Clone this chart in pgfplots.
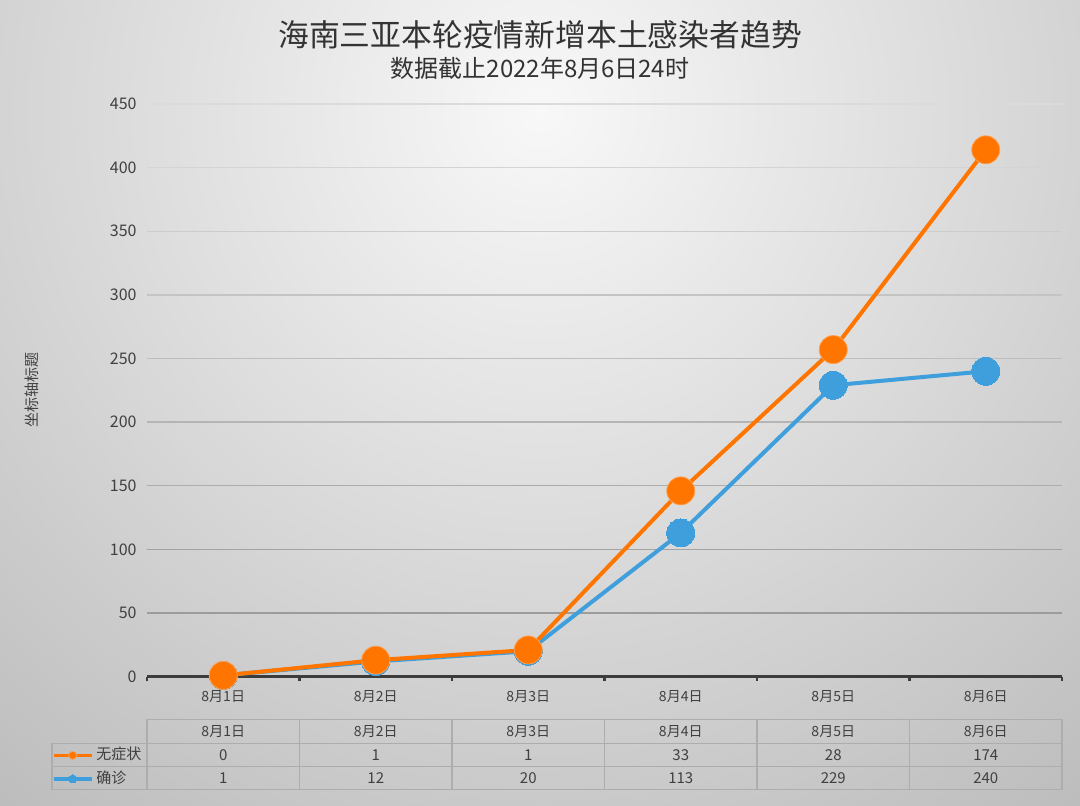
\documentclass[border=0pt]{standalone}
\usepackage{pgfplots}
\pgfplotsset{compat=1.18}
\usepackage{pgfplotstable}
\usepackage{fontspec}
\setmainfont{Noto Sans CJK SC}

\definecolor{bgin}{HTML}{F8F8F8}
\definecolor{bgout}{HTML}{BABABA}
\definecolor{orangeS}{HTML}{FF7500}
\definecolor{blueS}{HTML}{3E9FDC}
\definecolor{txt}{HTML}{404040}
\definecolor{titlec}{HTML}{333333}
\definecolor{axisc}{HTML}{3C3C3C}
\definecolor{rule}{HTML}{ADADAD}

% daily new local cases, Sanya
\pgfplotstableread{
x confirmed asymptomatic
0 1   0
1 12  1
2 20  1
3 113 33
4 229 28
5 240 174
}\cases

\newcommand\lbl{\fontsize{7.5}{9}\selectfont}

\begin{document}
\begin{tikzpicture}
\useasboundingbox (0,0) rectangle (540pt,403pt);
% background, pixel units
\begin{scope}[x=0.5pt,y=-0.5pt,shift={(0pt,403pt)}]
  \clip (0,0) rectangle (1080,806);
  \shade[inner color=bgin, outer color=bgout] (540,110) circle (920);
  \node[text=titlec, font=\fontsize{15.4}{18}\selectfont] at (540,35) {海南三亚本轮疫情新增本土感染者趋势};
  \node[text=titlec, font=\fontsize{12}{14}\selectfont] at (540,68) {数据截止2022年8月6日24时};
\end{scope}

\begin{axis}[
  at={(73.5pt,64.65pt)}, anchor=south west,
  scale only axis, width=457.5pt, height=286.35pt,
  xmin=-0.5, xmax=5.5, ymin=0, ymax=450,
  axis x line=bottom, axis y line=left,
  x axis line style={-, line width=1.3pt, draw=axisc},
  y axis line style={draw=none},
  xtick={0,...,5},
  xticklabels={8月1日,8月2日,8月3日,8月4日,8月5日,8月6日},
  minor xtick={-0.5,0.5,...,5.5},
  ytick={0,50,...,450},
  tick align=outside,
  major tick length=0pt, minor tick length=2.2pt,
  every minor tick/.append style={line width=1.3pt, draw=axisc},
  /pgf/number format/assume math mode=true,
  xticklabel style={font=\fontsize{7}{8}\selectfont, text=txt, inner sep=0pt, yshift=-6.5pt},
  yticklabel style={font=\fontsize{8}{9}\selectfont, text=txt, inner sep=0pt, xshift=-5pt},
  ylabel={坐标轴标题},
  ylabel style={at={(axis description cs:-0.1257,0.5)}, anchor=center, font=\lbl, text=txt},
  clip=false,
  reverse legend,
  legend cell align=left,
  legend style={at={(axis description cs:-0.1038,-0.1168)}, anchor=north west,
    draw=none, fill=none, inner sep=0pt, outer sep=0pt, row sep=0pt,
    font=\lbl, text=txt,
    nodes={inner sep=1.6pt, text height=6.5pt, text depth=2.1pt}},
  legend image code/.code={\draw[mark repeat=2, mark phase=2, #1, mark size=2pt, line width=1.6pt]
    plot coordinates {(0pt,0pt) (9.5pt,0pt) (19pt,0pt)};},
]
% grid lines, darker towards the bottom
\foreach \v/\c in {50/39,100/36,150/32,200/29,250/26,300/23,350/20,400/17,450/14}{
  \edef\tmp{\noexpand\draw[black!\c, line width=0.7pt] (axis cs:-0.5,\v) -- (axis cs:5.5,\v);}
  \tmp
}
\addplot[draw=blueS, line width=2pt, mark=*, mark size=7pt,
  mark options={fill=blueS, draw=blueS, line width=0pt}]
  table[x=x, y=confirmed] {\cases};
\addlegendentry{确诊}
% the orange line is stacked on the confirmed cases
\addplot[draw=orangeS, line width=2pt, mark=*, mark size=7pt,
  mark options={fill=orangeS, draw=orangeS!70!white, line width=0.4pt}]
  table[x=x, y expr=\thisrow{confirmed}+\thisrow{asymptomatic}] {\cases};
\addlegendentry{无症状}
\end{axis}

% data table under the chart, pixel units
\begin{scope}[x=0.5pt,y=-0.5pt,shift={(0pt,403pt)}]
  \draw[rule, line width=0.6pt] (147,719.3) rectangle (1062,789.3);
  \draw[rule, line width=0.6pt] (52,743.5) -- (1062,743.5);
  \draw[rule, line width=0.6pt] (52,766.5) -- (1062,766.5);
  \draw[rule, line width=0.6pt] (147,743.5) -- (52,743.5) -- (52,789.3) -- (147,789.3);
  \foreach \xx in {299.5,452,604.5,757,909.5}
    \draw[rule, line width=0.6pt] (\xx,719.3) -- (\xx,789.3);
  \foreach \i/\d in {0/8月1日,1/8月2日,2/8月3日,3/8月4日,4/8月5日,5/8月6日}{
    \node[font=\fontsize{7}{8}\selectfont, text=txt] at (223.25+152.5*\i,731.4) {\d};
    \pgfplotstablegetelem{\i}{asymptomatic}\of\cases
    \node[font=\lbl, text=txt] at (223.25+152.5*\i,755) {\pgfplotsretval};
    \pgfplotstablegetelem{\i}{confirmed}\of\cases
    \node[font=\lbl, text=txt] at (223.25+152.5*\i,778) {\pgfplotsretval};
  }
\end{scope}
\end{tikzpicture}
\end{document}
